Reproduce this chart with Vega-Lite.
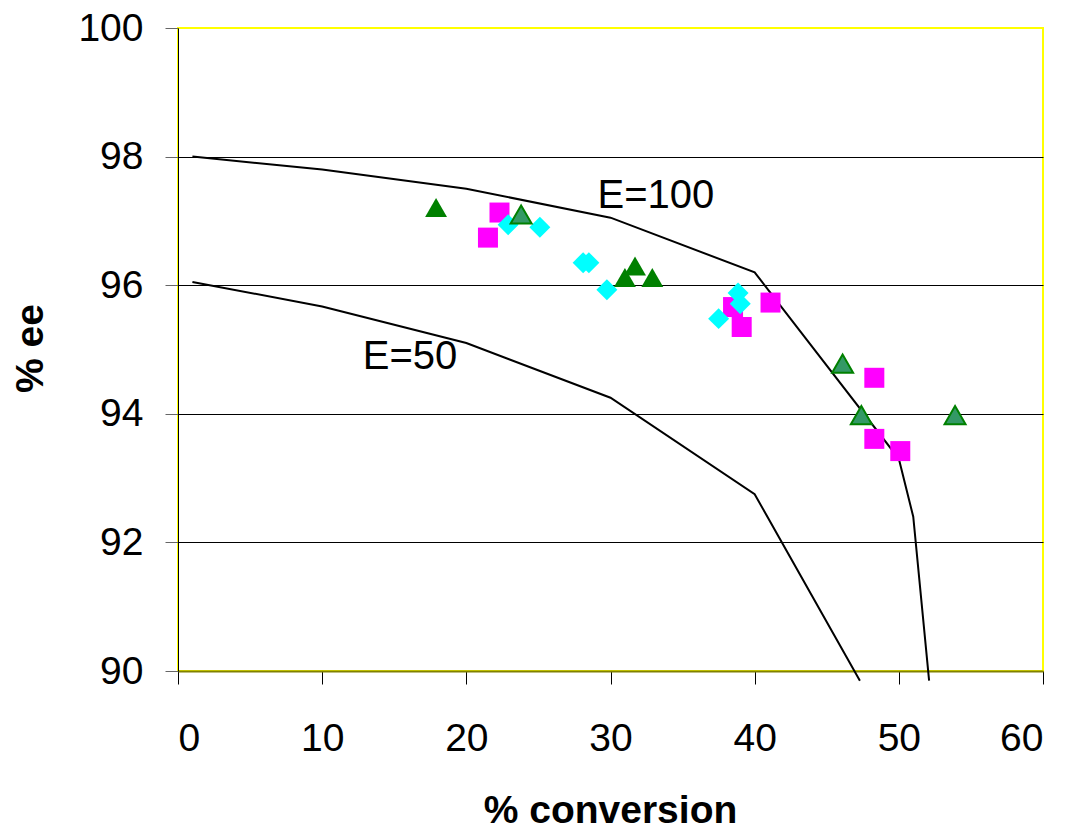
{
  "$schema": "https://vega.github.io/schema/vega-lite/v6.json",
  "width": 865,
  "height": 643,
  "autosize": {"type": "none"},
  "padding": {"left": 178, "top": 28, "right": 25, "bottom": 157},
  "background": "white",
  "config": {
    "view": {"stroke": "#FFFF00", "strokeWidth": 2},
    "font": "Liberation Sans"
  },
  "datasets": {
    "curves": [
      {"curve": "E=100", "conv": 1, "ee": 98.0, "o": 1},
      {"curve": "E=100", "conv": 10, "ee": 97.8, "o": 2},
      {"curve": "E=100", "conv": 20, "ee": 97.5, "o": 3},
      {"curve": "E=100", "conv": 30, "ee": 97.05, "o": 4},
      {"curve": "E=100", "conv": 40, "ee": 96.2, "o": 5},
      {"curve": "E=100", "conv": 50, "ee": 93.3, "o": 6},
      {"curve": "E=100", "conv": 51, "ee": 92.4, "o": 7},
      {"curve": "E=100", "conv": 52.1, "ee": 89.85, "o": 8},
      {"curve": "E=50", "conv": 1, "ee": 96.05, "o": 1},
      {"curve": "E=50", "conv": 10, "ee": 95.67, "o": 2},
      {"curve": "E=50", "conv": 20, "ee": 95.1, "o": 3},
      {"curve": "E=50", "conv": 30, "ee": 94.25, "o": 4},
      {"curve": "E=50", "conv": 40, "ee": 92.75, "o": 5},
      {"curve": "E=50", "conv": 47.3, "ee": 89.85, "o": 6}
    ],
    "points": [
      {"series": "C", "conv": 22.3, "ee": 97.13},
      {"series": "C", "conv": 21.5, "ee": 96.74},
      {"series": "C", "conv": 38.5, "ee": 95.66},
      {"series": "C", "conv": 39.1, "ee": 95.35},
      {"series": "C", "conv": 41.1, "ee": 95.73},
      {"series": "C", "conv": 48.3, "ee": 94.56},
      {"series": "C", "conv": 48.3, "ee": 93.61},
      {"series": "C", "conv": 50.1, "ee": 93.42},
      {"series": "D", "conv": 22.9, "ee": 96.94},
      {"series": "D", "conv": 25.1, "ee": 96.9},
      {"series": "D", "conv": 28.1, "ee": 96.35},
      {"series": "D", "conv": 28.5, "ee": 96.35},
      {"series": "D", "conv": 29.75, "ee": 95.93},
      {"series": "D", "conv": 38.85, "ee": 95.88},
      {"series": "D", "conv": 39.0, "ee": 95.71},
      {"series": "D", "conv": 37.5, "ee": 95.48},
      {"series": "A", "conv": 17.9, "ee": 97.21},
      {"series": "A", "conv": 31.7, "ee": 96.3},
      {"series": "A", "conv": 31.0, "ee": 96.12},
      {"series": "A", "conv": 32.9, "ee": 96.12},
      {"series": "B", "conv": 23.8, "ee": 97.1},
      {"series": "B", "conv": 46.1, "ee": 94.78},
      {"series": "B", "conv": 47.4, "ee": 93.98},
      {"series": "B", "conv": 53.9, "ee": 93.98}
    ],
    "labels": [
      {"text": "E=100", "conv": 33.15, "ee": 97.38},
      {"text": "E=50", "conv": 16.09, "ee": 94.89}
    ]
  },
  "encoding": {
    "x": {
      "field": "conv", "type": "quantitative",
      "scale": {"domain": [0, 60], "nice": false, "zero": false},
      "axis": {
        "title": "% conversion",
        "values": [0, 10, 20, 30, 40, 50, 60],
        "grid": false,
        "domainColor": "#808000",
        "domainWidth": 2,
        "tickColor": "#000000",
        "tickSize": 13,
        "labelFontSize": 39,
        "labelColor": "#000000",
        "labelPadding": 35,
        "labelFont": "Liberation Sans",
        "titleFont": "Liberation Sans",
        "titleFontSize": 39,
        "titleFontWeight": "bold",
        "titleColor": "#000000",
        "titleBaseline": "alphabetic",
        "titleY": 151,
        "titleX": 432,
        "titleAlign": "center"
      }
    },
    "y": {
      "field": "ee", "type": "quantitative",
      "scale": {"domain": [90, 100], "nice": false, "zero": false},
      "axis": {
        "title": "% ee",
        "values": [90, 92, 94, 96, 98, 100],
        "grid": true,
        "gridColor": "#000000",
        "gridOpacity": {"condition": {"test": "datum.value == 90 || datum.value == 100", "value": 0}, "value": 1},
        "domainColor": "#000000",
        "tickColor": "#666666",
        "tickSize": 13,
        "labelFontSize": 39,
        "labelColor": "#000000",
        "labelPadding": 22,
        "labelFont": "Liberation Sans",
        "titleFont": "Liberation Sans",
        "titleFontSize": 39,
        "titleFontWeight": "bold",
        "titleColor": "#000000",
        "titleAngle": 270,
        "titleBaseline": "alphabetic",
        "titleAlign": "center",
        "titleX": -136,
        "titleY": 320
      }
    }
  },
  "layer": [
    {
      "data": {"name": "curves"},
      "mark": {"type": "line", "color": "#000000", "strokeWidth": 2, "clip": false},
      "encoding": {
        "detail": {"field": "curve"},
        "order": {"field": "o", "type": "quantitative"}
      }
    },
    {
      "data": {"name": "points"},
      "transform": [{"filter": "datum.series == 'C'"}],
      "mark": {"type": "point", "shape": "square", "filled": true, "color": "#FF00FF", "opacity": 1, "size": 400}
    },
    {
      "data": {"name": "points"},
      "transform": [{"filter": "datum.series == 'D'"}],
      "mark": {"type": "point", "shape": "diamond", "filled": true, "color": "#00FFFF", "opacity": 1, "size": 440}
    },
    {
      "data": {"name": "points"},
      "transform": [{"filter": "datum.series == 'A'"}],
      "mark": {"type": "point", "shape": "triangle-up", "filled": true, "color": "#008000", "opacity": 1, "size": 480}
    },
    {
      "data": {"name": "points"},
      "transform": [{"filter": "datum.series == 'B'"}],
      "mark": {"type": "point", "shape": "triangle-up", "filled": true, "fill": "#339966", "stroke": "#008000", "strokeWidth": 2, "opacity": 1, "size": 440}
    },
    {
      "data": {"name": "labels"},
      "mark": {"type": "text", "font": "Liberation Sans", "fontSize": 40, "color": "#000000", "align": "center", "baseline": "middle"},
      "encoding": {"text": {"field": "text"}}
    }
  ]
}
